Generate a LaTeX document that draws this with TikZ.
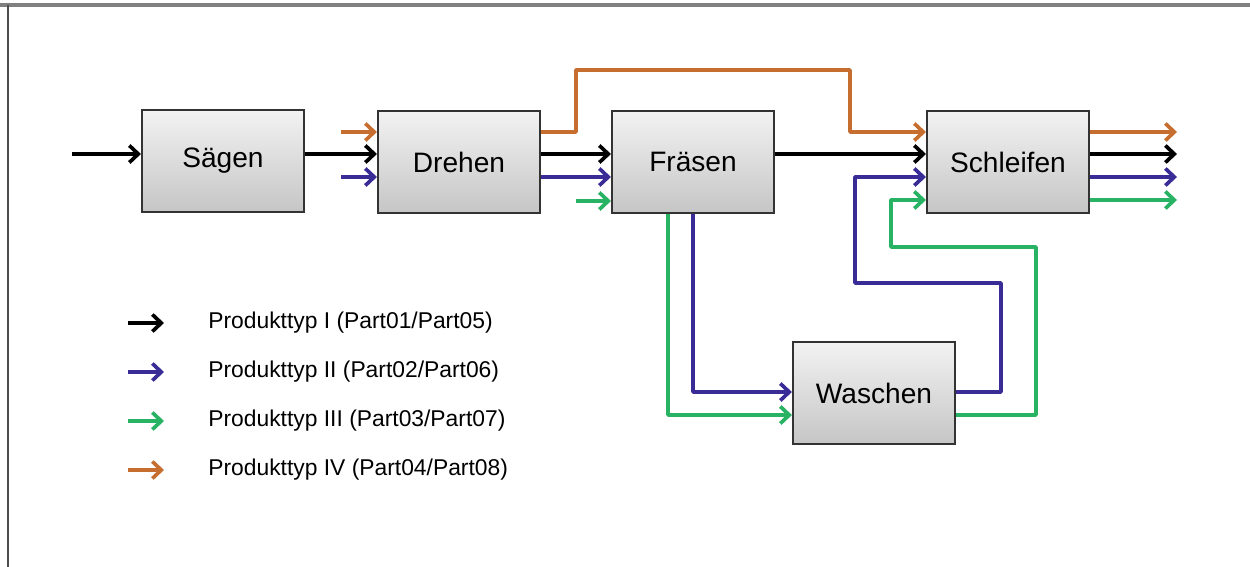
\documentclass[tikz,border=0pt]{standalone}
\usepackage{fontspec}
\setmainfont{Liberation Sans}
\usetikzlibrary{arrows.meta}

\definecolor{typOrange}{RGB}{198,110,48}
\definecolor{typBlue}{RGB}{58,44,150}
\definecolor{typGreen}{RGB}{40,178,100}

\tikzset{
    station/.style={draw=black!80, line width=1.2pt, top color=gray!10, bottom color=gray!45,
        minimum width=3.24cm, minimum height=2.04cm, font=\fontsize{16}{19}\selectfont},
    flow/.style={line width=2.1pt, line join=round, -{Straight Barb[length=1.8mm,width=3.4mm]}},
    legend/.style={anchor=west, inner sep=0pt, font=\fontsize{13}{16}\selectfont},
}

\begin{document}
\begin{tikzpicture}[x=0.02cm,y=-0.02cm]
    \useasboundingbox (0,0) rectangle (1250,567);
    %% frame
    \draw[gray, line width=2pt] (0,5) -- (1250,5);
    \draw[black!70, line width=0.6pt] (8,5) -- (8,567);

    %% stations
    \node[station] (saegen) at (223,161) {Sägen};
    \node[station] (drehen) at (459,162) {Drehen};
    \node[station] (fraesen) at (693,162) {Fräsen};
    \node[station] (schleifen) at (1008,162) {Schleifen};
    \node[station] (waschen) at (874,393) {Waschen};

    %% rows of the flows
    \coordinate (rowO) at (0,132);
    \coordinate (rowK) at (0,154);
    \coordinate (rowB) at (0,177);
    \coordinate (rowG) at (0,200);
    \coordinate (rowWB) at (0,392);
    \coordinate (rowWG) at (0,415);
    %% loose ends and bends
    \coordinate (start) at (72,154);
    \coordinate (inO) at (341,132);
    \coordinate (inB) at (341,177);
    \coordinate (inG) at (576,201);
    \coordinate (out) at (1177,0);
    \coordinate (oUp) at (576,70);
    \coordinate (oDn) at (850,132);
    \coordinate (bTurn) at (1001,283);
    \coordinate (bUp) at (855,177);
    \coordinate (gTurn) at (1036,247);
    \coordinate (gUp) at (891,200);

    %% type I
    \draw[flow] (start) -- (saegen.west |- rowK);
    \draw[flow] (saegen.east |- rowK) -- (drehen.west |- rowK);
    \draw[flow] (drehen.east |- rowK) -- (fraesen.west |- rowK);
    \draw[flow] (fraesen.east |- rowK) -- (schleifen.west |- rowK);
    \draw[flow] (schleifen.east |- rowK) -- (out |- rowK);

    %% type IV
    \draw[flow, typOrange] (inO) -- (drehen.west |- rowO);
    \draw[flow, typOrange] (drehen.east |- rowO) -| (oUp) -| (oDn) -- (schleifen.west |- rowO);
    \draw[flow, typOrange] (schleifen.east |- rowO) -- (out |- rowO);

    %% type II
    \draw[flow, typBlue] (inB) -- (drehen.west |- rowB);
    \draw[flow, typBlue] (drehen.east |- rowB) -- (fraesen.west |- rowB);
    \draw[flow, typBlue] (fraesen.south) |- (waschen.west |- rowWB);
    \draw[flow, typBlue] (waschen.east |- rowWB) -| (bTurn) -| (bUp) -- (schleifen.west |- rowB);
    \draw[flow, typBlue] (schleifen.east |- rowB) -- (out |- rowB);

    %% type III
    \draw[flow, typGreen] (inG) -- (fraesen.west |- inG);
    \draw[flow, typGreen] ([xshift=-0.5cm]fraesen.south) |- (waschen.west |- rowWG);
    \draw[flow, typGreen] (waschen.east |- rowWG) -| (gTurn) -| (gUp) -- (schleifen.west |- rowG);
    \draw[flow, typGreen] (schleifen.east |- rowG) -- (out |- rowG);

    %% legend
    \node[legend] (leg1) at (208,323) {Produkttyp I (Part01/Part05)};
    \node[legend] (leg2) at (208,372) {Produkttyp II (Part02/Part06)};
    \node[legend] (leg3) at (208,421) {Produkttyp III (Part03/Part07)};
    \node[legend] (leg4) at (208,470) {Produkttyp IV (Part04/Part08)};
    \draw[flow] ([xshift=-1.6cm]leg1.west) -- ([xshift=-0.88cm]leg1.west);
    \draw[flow, typBlue] ([xshift=-1.6cm]leg2.west) -- ([xshift=-0.88cm]leg2.west);
    \draw[flow, typGreen] ([xshift=-1.6cm]leg3.west) -- ([xshift=-0.88cm]leg3.west);
    \draw[flow, typOrange] ([xshift=-1.6cm]leg4.west) -- ([xshift=-0.88cm]leg4.west);
\end{tikzpicture}
\end{document}
